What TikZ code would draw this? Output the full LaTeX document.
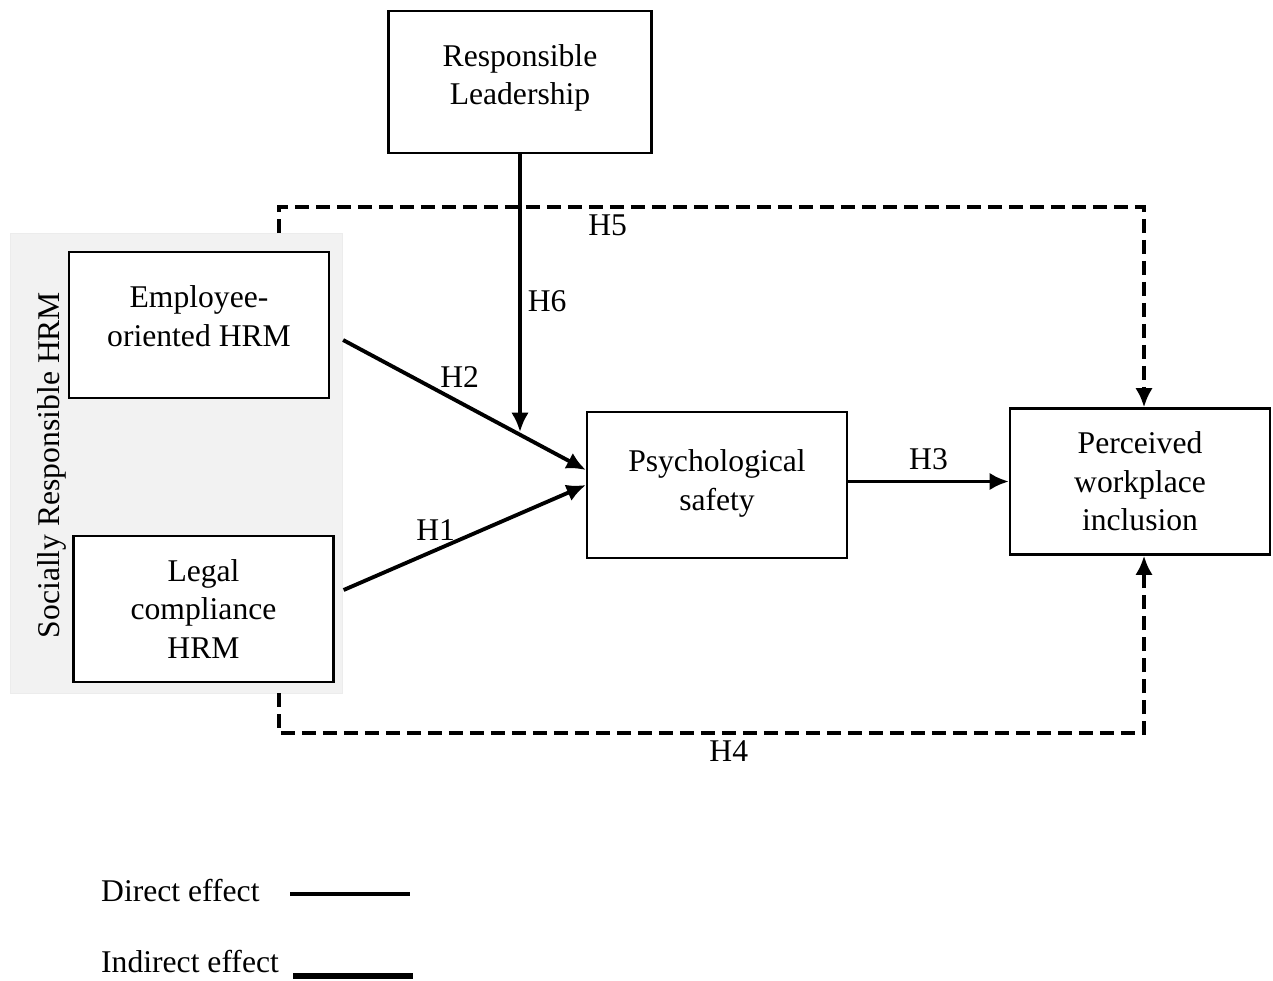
\documentclass[tikz,border=0pt]{standalone}
\usepackage{fontspec}
\setmainfont{Liberation Serif}
\usetikzlibrary{positioning, arrows.meta}

\begin{document}
\begin{tikzpicture}[x=0.02cm, y=-0.02cm, >={Latex[length=11pt,width=10pt]},
    every node/.style={font=\fontsize{18}{22}\selectfont},
    box/.style={draw, line width=1.3pt, fill=white, align=center, minimum width=5.2cm, minimum height=2.92cm},
    direct/.style={->, line width=2.2pt},
    indirect/.style={->, line width=2.2pt, dash pattern=on 0.28cm off 0.14cm}]
    \useasboundingbox (0,0) rectangle (1273,980);

    % grouping panel
    \node[fill=gray!10, draw=gray!15, minimum width=6.64cm, minimum height=9.2cm] (srhrm) at (176,463) {};
    \node[rotate=90] (srlabel) at (52,465) {Socially Responsible HRM};

    \node[box, minimum width=5.26cm, minimum height=2.84cm, text depth=0.3cm] (rl) at (520,82) {Responsible\\Leadership};
    \node[box, text depth=0.36cm] (eo) at (199,325) {Employee-\\oriented HRM};
    \node[box] (lc) at (203.5,609) {Legal\\compliance\\HRM};
    \node[box, text depth=0.2cm] (ps) at (717,485) {Psychological\\safety};
    \node[box] (pwi) at (1140,481.5) {Perceived\\workplace\\inclusion};

    \coordinate (h6end) at (520,432);
    \coordinate (h5a) at (279,233);
    \coordinate (h5top) at (1144,207);
    \coordinate (h4a) at (279,693);
    \coordinate (h4bot) at (1144,733);

    \draw[direct] (rl.south) -- node[pos=.53, right] {H6} (h6end);
    \draw[direct] ([shift={(13,15)}]eo.east) -- node[pos=.48, above=4pt] {H2} ([shift={(0,-15)}]ps.west);
    \draw[direct] ([shift={(9,-19)}]lc.east) -- node[pos=.38, above=1pt] {H1} (ps.west);
    \draw[direct] (ps.east |- pwi.west) -- node[above=2pt] {H3} (pwi.west);

    \draw[indirect] (h5a) |- node[pos=.69, below] {H5} (h5top) -- (pwi.north -| h5top);
    \draw[indirect] (h4a) |- node[pos=.76, below] {H4} (h4bot) -- (pwi.south -| h4bot);

    % legend
    \node[anchor=west] (dlabel) at (95,891) {Direct effect};
    \node[anchor=west] (ilabel) at (95,962) {Indirect effect};
    \coordinate (d1) at (290,894);
    \coordinate (d2) at (410,894);
    \coordinate (i1) at (293,976);
    \coordinate (i2) at (413,976);
    \draw[line width=2.2pt] (d1) -- (d2);
    \draw[line width=3pt] (i1) -- (i2);
\end{tikzpicture}
\end{document}
